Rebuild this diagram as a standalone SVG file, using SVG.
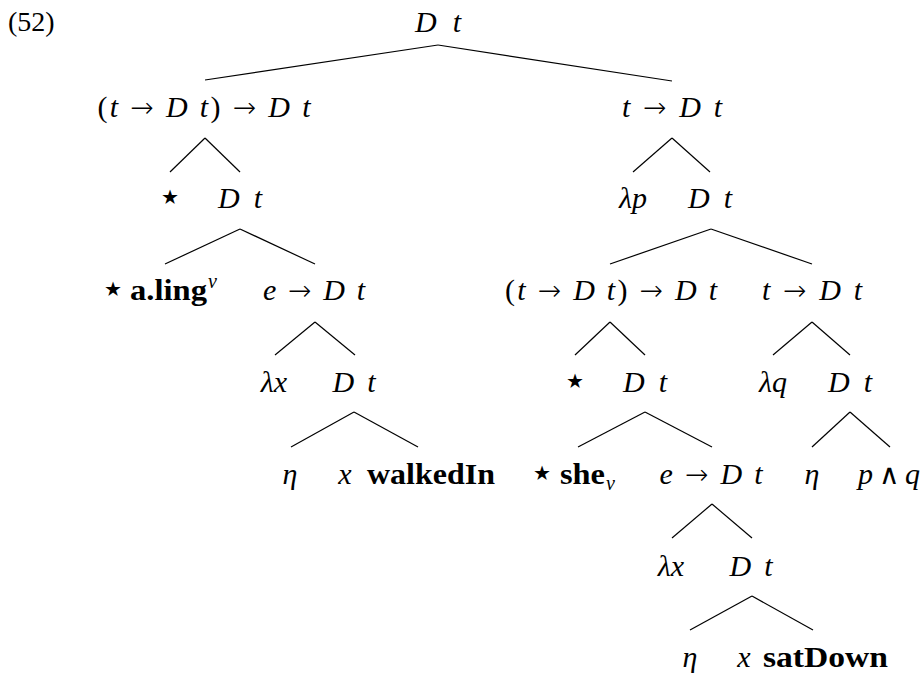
<svg xmlns="http://www.w3.org/2000/svg" width="922" height="676" viewBox="0 0 922 676">
<style>
text{font-family:"Liberation Serif","DejaVu Serif",serif;font-size:30px;fill:#000;text-anchor:middle}
.i{font-style:italic}
.u{font-style:normal}
.a{font-style:normal;font-family:"DejaVu Sans",sans-serif;font-weight:200;font-size:28px}
.st{font-family:"DejaVu Sans",sans-serif;font-size:40px}
.b{font-weight:bold;font-style:normal;text-anchor:start;font-size:29px}
.s{font-size:20px;font-style:italic;text-anchor:start}
.n{font-size:28px;text-anchor:start}
.edges line{stroke:#000;stroke-width:1.2}
</style>
<rect width="922" height="676" fill="#fff"/>
<text class="n" x="8" y="31">(52)</text>
<g class="edges">
<line x1="438" y1="45" x2="205" y2="80"/><line x1="438" y1="45" x2="672" y2="81"/>
<line x1="205" y1="138" x2="170" y2="172"/><line x1="205" y1="138" x2="240" y2="172"/>
<line x1="672" y1="138" x2="633" y2="172"/><line x1="672" y1="138" x2="710" y2="172"/>
<line x1="240" y1="229" x2="165" y2="264"/><line x1="240" y1="229" x2="315" y2="264"/>
<line x1="711" y1="229" x2="610" y2="264"/><line x1="711" y1="229" x2="812" y2="264"/>
<line x1="315" y1="322" x2="275" y2="355"/><line x1="315" y1="322" x2="355" y2="355"/>
<line x1="610" y1="322" x2="575" y2="355"/><line x1="610" y1="322" x2="645" y2="355"/>
<line x1="812" y1="322" x2="773" y2="355"/><line x1="812" y1="322" x2="850" y2="355"/>
<line x1="354" y1="412" x2="291" y2="447"/><line x1="354" y1="412" x2="418" y2="447"/>
<line x1="645" y1="412" x2="578" y2="447"/><line x1="645" y1="412" x2="712" y2="447"/>
<line x1="850" y1="412" x2="812" y2="447"/><line x1="850" y1="412" x2="890" y2="447"/>
<line x1="712" y1="504" x2="672" y2="538"/><line x1="712" y1="504" x2="752" y2="538"/>
<line x1="752" y1="596" x2="690" y2="630"/><line x1="752" y1="596" x2="813" y2="630"/>
</g>
<g id="root"><text class="i" x="438" y="32" textLength="46" lengthAdjust="spacing">D t</text></g>
<g id="n1"><text class="i" x="204" y="117" textLength="213" lengthAdjust="spacing"><tspan class="u">(</tspan>t <tspan class="a">→</tspan> D t<tspan class="u">)</tspan> <tspan class="a">→</tspan> D t</text></g>
<g id="n2"><text class="i" x="672" y="117" textLength="100" lengthAdjust="spacing">t <tspan class="a">→</tspan> D t</text></g>
<g id="n3"><text class="st" x="170" y="210">⋆</text></g>
<g id="n4"><text class="i" x="240" y="208" textLength="44" lengthAdjust="spacing">D t</text></g>
<g id="n5"><text class="i" x="633" y="208">λp</text></g>
<g id="n6"><text class="i" x="710" y="208" textLength="44" lengthAdjust="spacing">D t</text></g>
<g id="n7"><text class="st" x="113" y="302">⋆</text><text class="b" x="130" y="300" textLength="77" lengthAdjust="spacingAndGlyphs">a.ling</text><text class="s" x="208" y="288">v</text></g>
<g id="n8"><text class="i" x="314" y="300" textLength="102" lengthAdjust="spacing">e <tspan class="a">→</tspan> D t</text></g>
<g id="n9"><text class="i" x="611" y="300" textLength="212" lengthAdjust="spacing"><tspan class="u">(</tspan>t <tspan class="a">→</tspan> D t<tspan class="u">)</tspan> <tspan class="a">→</tspan> D t</text></g>
<g id="n10"><text class="i" x="812" y="300" textLength="100" lengthAdjust="spacing">t <tspan class="a">→</tspan> D t</text></g>
<g id="n11"><text class="i" x="274" y="392">λx</text></g>
<g id="n12"><text class="i" x="354" y="392" textLength="43" lengthAdjust="spacing">D t</text></g>
<g id="n13"><text class="st" x="575" y="394">⋆</text></g>
<g id="n14"><text class="i" x="645" y="392" textLength="44" lengthAdjust="spacing">D t</text></g>
<g id="n15"><text class="i" x="773" y="392">λq</text></g>
<g id="n16"><text class="i" x="850" y="392" textLength="44" lengthAdjust="spacing">D t</text></g>
<g id="n17"><text class="i" x="290" y="484">η</text></g>
<g id="n18"><text class="i" x="345" y="484">x</text><text class="b" x="367" y="484" textLength="128" lengthAdjust="spacingAndGlyphs">walkedIn</text></g>
<g id="n19"><text class="st" x="542" y="486">⋆</text><text class="b" x="560" y="484" textLength="45" lengthAdjust="spacingAndGlyphs">she</text><text class="s" x="606" y="490">v</text></g>
<g id="n20"><text class="i" x="711" y="484" textLength="103" lengthAdjust="spacing">e <tspan class="a">→</tspan> D t</text></g>
<g id="n21"><text class="i" x="812" y="484">η</text></g>
<g id="n22"><text class="i" x="889" y="484" textLength="62" lengthAdjust="spacing">p <tspan class="a">∧</tspan> q</text></g>
<g id="n23"><text class="i" x="671" y="576">λx</text></g>
<g id="n24"><text class="i" x="751" y="576" textLength="43" lengthAdjust="spacing">D t</text></g>
<g id="n25"><text class="i" x="690" y="667">η</text></g>
<g id="n26"><text class="i" x="744" y="667">x</text><text class="b" x="763" y="667" textLength="125" lengthAdjust="spacingAndGlyphs">satDown</text></g>
</svg>
